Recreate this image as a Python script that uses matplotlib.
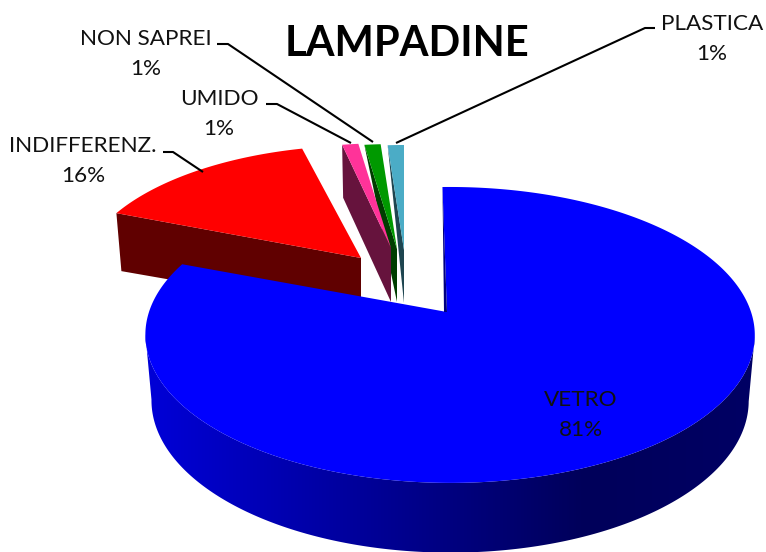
import numpy as np
import matplotlib
matplotlib.use("Agg")
import matplotlib.pyplot as plt
from matplotlib.colors import LinearSegmentedColormap
from matplotlib.patches import Polygon

# ---- data ----
categories = ["VETRO", "INDIFFERENZ.", "UMIDO", "NON SAPREI", "PLASTICA"]
values = [81, 16, 1, 1, 1]
title = "LAMPADINE"

# ---- style ----
top_colors = ["#0000ff", "#ff0000", "#ff3399", "#009900", "#4bacc6"]
wall_colors = ["#000080", "#600000", "#66133d", "#003d00", "#1e4550"]
explode_dx = [0, -86, -56, -50, -43]
explode_dy = [0, -54, -64, -63, -62]
scale_x = [1, 0.932, 1.0, 1.0, 1.0]
scale_y = [1, 0.90, 0.84, 0.84, 0.84]
rot = [-1, 0, 0, 0, 0]
trim = [0, 3.2, 0, 0, 0]
depth_apex = [65, 55, 54, 53, 53]
depth_outer = [65, 58, 53, 0, 0]
wall_shift = [0, 5, 1, 0, 0]
label_xy = [(581, 415), (83, 161), (219, 114), (146, 54), (712, 39)]
leaders = [None,
           [(163, 152), (173, 152), (203, 172)],
           [(266, 104), (277, 104), (351, 143)],
           [(217, 44), (228, 44), (373, 142)],
           [(655, 28), (645, 28), (396, 143)]]
rim_stops = [(0.0, "#0000d8"), (0.5, "#000080"), (0.72, "#00005a"), (1.0, "#000064")]

APEX = (447.0, 312.0)
A, B, K, M = 301.0, 144.4, 0.155, -0.01
plt.rcParams['font.family'] = ['Lato', 'DejaVu Sans']


def proj(theta_deg):
    t = np.radians(theta_deg)
    X, Y = np.sin(t), np.cos(t)
    w = 1 + K * Y + M * X
    return A * X / w, -B * Y / w


fig = plt.figure(figsize=(7.66, 5.52), dpi=100)
ax = fig.add_axes([0, 0, 1, 1])
ax.set_xlim(0, 766)
ax.set_ylim(552, 0)
ax.axis("off")

total = sum(values)
spans = [v / total * 360 for v in values]
starts = list(np.cumsum([0] + spans[:-1]))

for i in [4, 3, 2, 1, 0]:
    if i == 0:
        a0, a1 = rot[0], rot[0] + spans[0]
    else:
        # the remaining slices continue clockwise up to the 12 o'clock line
        a0 = starts[i] + rot[i]
        a1 = a0 + spans[i] - trim[i]
    th = np.linspace(a0, a1, 400 if i == 0 else 60)
    px, py = proj(th)
    ax_ = APEX[0] + explode_dx[i]
    ay_ = APEX[1] + explode_dy[i]
    xs = ax_ + scale_x[i] * px
    ys = ay_ + scale_y[i] * py
    if i == 0:
        # rim of the main slice: a horizontal gradient clipped to its outline,
        # running between the two horizontal extremes of the top face
        j0, j1 = int(np.argmax(xs)), int(np.argmin(xs))
        tx, ty = xs[j0:j1 + 1], ys[j0:j1 + 1]
        cx = APEX[0] + 3
        bx = cx + (tx - cx) * 0.98
        by = ty + depth_apex[0] + 4 * py[j0:j1 + 1] / B
        rim = Polygon(list(zip(np.r_[tx, bx[::-1]], np.r_[ty, by[::-1]])), closed=True,
                      fc="none", ec="none", transform=ax.transData)
        ax.add_patch(rim)
        cmap = LinearSegmentedColormap.from_list("rim", rim_stops)
        grad = np.linspace(0, 1, 512)[None, :]
        im = ax.imshow(grad, cmap=cmap, extent=(145, 755, 552, 300), aspect="auto", zorder=2)
        im.set_clip_path(rim)
        ax.set_xlim(0, 766)
        ax.set_ylim(552, 0)
        ax.add_patch(Polygon(list(zip(np.r_[ax_, xs], np.r_[ay_, ys])), closed=True,
                             fc=top_colors[0], ec="none", zorder=3))
        # thin inner wall at the opening
        ax.add_patch(Polygon([(xs[0], ys[0]), (ax_, ay_), (ax_ - 3, ay_)],
                             closed=True, fc=wall_colors[0], ec="none", zorder=4))
    else:
        # wall under the edge nearest the viewer
        ox, oy = xs[0], ys[0]
        ax.add_patch(Polygon([(ox, oy), (ox + wall_shift[i], oy + depth_outer[i]),
                              (ax_, ay_ + depth_apex[i]), (ax_, ay_)],
                             closed=True, fc=wall_colors[i], ec="none", zorder=1))
        ax.add_patch(Polygon(list(zip(np.r_[ax_, xs], np.r_[ay_, ys])), closed=True,
                             fc=top_colors[i], ec="none", zorder=1))

for i, c in enumerate(categories):
    ax.text(label_xy[i][0], label_xy[i][1], f"{c}\n{values[i]}%", ha="center", va="center",
            fontsize=16.2, color="#111111", linespacing=1.65, zorder=6)
    if leaders[i]:
        lx, ly = zip(*leaders[i])
        ax.plot(lx, ly, color="black", lw=1.5, zorder=5, solid_capstyle="butt")

ax.text(407, 44, title, ha="center", va="center", fontsize=30, fontweight="bold", color="black", zorder=6)
fig.savefig("out.png", dpi=100)
